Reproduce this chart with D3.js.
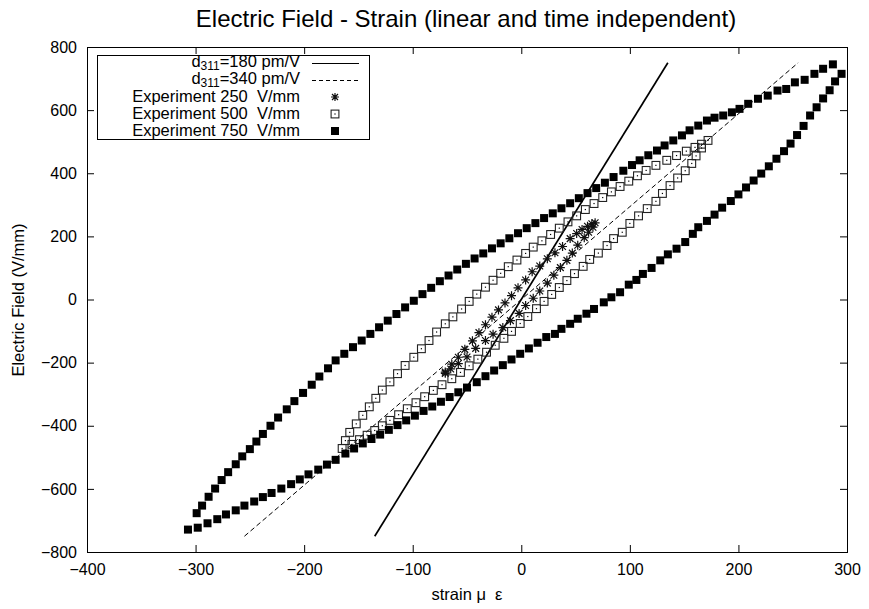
<!DOCTYPE html>
<html>
<head>
<meta charset="utf-8">
<script src="https://cdn.jsdelivr.net/npm/d3@7"></script>
<style>
body { margin: 0; background: #fff; }
text { font-family: "Liberation Sans", Arial, sans-serif; fill: #000; white-space: pre; }
</style>
</head>
<body>
<div id="chart"></div>
<script>
var titleText = "Electric Field - Strain (linear and time independent)";
var xLabel = "strain \u03bc  \u03b5";
var yLabel = "Electric Field (V/mm)";
var xTicks = [-400, -300, -200, -100, 0, 100, 200, 300];
var yTicks = [-800, -600, -400, -200, 0, 200, 400, 600, 800];

// d311 in pm/V, lines drawn over this field range (V/mm)
var dValues = [180, 340];
var fieldEnds = [-750, 750];

// measured loops [strain, field]
var exp250 = [
  [-70,-230],[-64,-205],[-58,-183],[-52,-158],[-45,-131],[-39,-105],[-33,-80],[-27,-56],
  [-21,-33],[-15,-11],[-9,12],[-3,37],[4,62],[10,88],[17,106],[24,129],[31,148],[38,168],
  [45,193],[51,209],[56,222],[61,232],[65,240],[68,243],
  [66,229],[62,213],[58,196],[52,172],[47,147],[42,124],[36,101],[30,77],[24,52],[17,27],
  [11,4],[4,-19],[-2,-44],[-10,-67],[-17,-89],[-26,-110],[-33,-130],[-42,-155],[-50,-182],
  [-58,-203],[-65,-220],[-70,-234]
];
var exp500 = [
  [-165,-472],[-162,-447],[-158,-421],[-152,-394],[-146,-367],[-140,-340],[-134,-313],
  [-128,-287],[-121,-261],[-114,-235],[-107,-209],[-99,-183],[-92,-156],[-85,-130],
  [-78,-103],[-70,-77],[-63,-55],[-55,-30],[-48,-6],[-41,17],[-33,39],[-26,61],[-19,83],
  [-12,104],[-4,125],[4,146],[11,166],[19,186],[27,206],[35,226],[43,246],[51,265],
  [59,285],[67,304],[75,323],[83,341],[91,358],[99,375],[107,392],[115,409],[124,425],
  [134,441],[143,456],[152,470],[160,482],[166,492],[172,504],
  [166,480],[161,455],[157,431],[151,408],[144,385],[137,361],[130,336],[124,311],
  [116,288],[108,265],[100,241],[93,213],[85,193],[79,171],[71,147],[63,127],[57,105],
  [49,82],[42,60],[35,38],[28,16],[21,-6],[14,-29],[6,-54],[-1,-76],[-9,-101],[-16,-123],
  [-24,-145],[-32,-167],[-40,-189],[-48,-210],[-56,-231],[-64,-251],[-73,-270],[-81,-288],
  [-89,-308],[-97,-327],[-105,-346],[-113,-365],[-121,-383],[-128,-400],[-135,-415],
  [-142,-430],[-149,-444],[-156,-459]
];
var exp750 = [
  [-299,-677],[-294,-653],[-288,-625],[-282,-599],[-276,-572],[-270,-547],[-263,-522],
  [-257,-497],[-250,-474],[-244,-450],[-238,-426],[-231,-400],[-224,-374],[-216,-348],
  [-209,-322],[-201,-296],[-193,-270],[-186,-244],[-178,-218],[-171,-193],[-163,-172],
  [-155,-151],[-147,-130],[-139,-109],[-131,-88],[-123,-67],[-115,-46],[-107,-25],
  [-99,-4],[-91,17],[-83,37],[-75,58],[-67,76],[-59,95],[-51,113],[-43,130],[-35,146],
  [-27,162],[-19,178],[-11,194],[-3,210],[5,226],[13,242],[21,258],[29,273],[37,289],
  [45,305],[53,321],[61,337],[69,353],[77,370],[85,388],[94,408],[102,426],[109,441],
  [117,457],[125,472],[132,488],[140,504],[148,520],[155,536],[163,551],[171,567],
  [178,576],[186,583],[194,593],[201,604],[209,620],[218,636],[227,646],[236,662],
  [244,667],[252,688],[261,696],[270,715],[278,731],[287,745],
  [295,715],[289,691],[284,663],[278,637],[272,609],[266,583],[260,550],[254,521],
  [248,494],[242,470],[235,446],[228,422],[221,399],[214,377],[207,355],[200,333],
  [193,312],[185,291],[178,269],[171,249],[163,229],[158,208],[151,182],[143,161],
  [135,143],[128,124],[120,100],[112,81],[106,62],[99,47],[91,23],[83,7],[76,-9],
  [67,-30],[60,-45],[52,-61],[45,-77],[37,-93],[31,-109],[23,-119],[15,-137],[7,-155],
  [-1,-172],[-9,-190],[-17,-208],[-25,-225],[-33,-243],[-41,-262],[-50,-279],[-58,-294],
  [-66,-309],[-74,-324],[-82,-339],[-90,-353],[-98,-368],[-106,-383],[-114,-398],
  [-122,-413],[-130,-428],[-138,-442],[-146,-456],[-154,-472],[-162,-488],[-171,-508],
  [-179,-523],[-187,-539],[-196,-554],[-204,-570],[-212,-585],[-221,-599],[-230,-613],
  [-238,-626],[-246,-640],[-255,-653],[-263,-668],[-272,-681],[-280,-696],[-289,-709],
  [-298,-723],[-307,-729]
];

var legendLines = ["=180 pm/V", "=340 pm/V"];
var legendExp = ["Experiment 250  V/mm", "Experiment 500  V/mm", "Experiment 750  V/mm"];

var width = 869, height = 609;
var svg = d3.select("#chart").append("svg")
    .attr("width", width)
    .attr("height", height);

var x = d3.scaleLinear().domain([-400, 300]).range([87, 847]);
var y = d3.scaleLinear().domain([-800, 800]).range([552, 47]);

// axes, ticks pointing inward
svg.append("g").attr("transform", "translate(0,552)")
    .call(d3.axisBottom(x).tickValues(xTicks).tickSize(-7).tickPadding(12));
svg.append("g").attr("transform", "translate(87,0)")
    .call(d3.axisLeft(y).tickValues(yTicks).tickSize(-7).tickPadding(10));
svg.append("g").attr("transform", "translate(0,47)")
    .call(d3.axisTop(x).tickValues(xTicks).tickSize(-7).tickFormat(""));
svg.append("g").attr("transform", "translate(847,0)")
    .call(d3.axisRight(y).tickValues(yTicks).tickSize(-7).tickFormat(""));
svg.selectAll(".domain").remove();
svg.selectAll(".tick line").attr("stroke", "#000");
svg.selectAll(".tick text").style("font-size", "16px")
    .style("font-family", "'Liberation Sans', Arial, sans-serif");

svg.append("rect")
    .attr("x", 87.5).attr("y", 47.5)
    .attr("width", 760).attr("height", 505)
    .attr("fill", "none").attr("stroke", "#000");

svg.append("text")
    .attr("x", 466).attr("y", 27)
    .attr("text-anchor", "middle")
    .style("font-size", "24px")
    .text(titleText);

svg.append("text")
    .attr("x", 467).attr("y", 600)
    .attr("text-anchor", "middle")
    .style("font-size", "16.5px")
    .text(xLabel);

svg.append("text")
    .attr("transform", "translate(24,300) rotate(-90)")
    .attr("text-anchor", "middle")
    .style("font-size", "16.5px")
    .text(yLabel);

var plot = svg.append("g");

// d311 lines
plot.selectAll("line.d311")
    .data(dValues)
    .enter().append("line")
    .attr("class", "d311")
    .attr("x1", function(d) { return x(d * fieldEnds[0] / 1000); })
    .attr("y1", y(fieldEnds[0]))
    .attr("x2", function(d) { return x(d * fieldEnds[1] / 1000); })
    .attr("y2", y(fieldEnds[1]))
    .attr("stroke", "#000")
    .attr("stroke-width", function(d, i) { return i == 0 ? 1.7 : 1; })
    .attr("stroke-dasharray", function(d, i) { return i == 0 ? null : "5,3"; });

// markers
function asterisk(g, cx, cy, s) {
    var p = "M" + (cx - s) + "," + cy + "h" + (2 * s) +
        "M" + cx + "," + (cy - s) + "v" + (2 * s) +
        "M" + (cx - s * 0.75) + "," + (cy - s * 0.75) + "l" + (1.5 * s) + "," + (1.5 * s) +
        "M" + (cx - s * 0.75) + "," + (cy + s * 0.75) + "l" + (1.5 * s) + "," + (-1.5 * s);
    g.append("path").attr("d", p).attr("stroke", "#111").attr("stroke-width", 1.2).attr("fill", "none");
}
function openSquare(g, cx, cy, s) {
    g.append("rect")
        .attr("x", cx - s / 2).attr("y", cy - s / 2)
        .attr("width", s).attr("height", s)
        .attr("fill", "none").attr("stroke", "#222").attr("stroke-width", 1.1);
    g.append("rect")
        .attr("x", cx - 0.6).attr("y", cy - 0.6)
        .attr("width", 1.2).attr("height", 1.2)
        .attr("fill", "#000");
}
function filledSquare(g, cx, cy, s) {
    g.append("rect")
        .attr("x", cx - s / 2).attr("y", cy - s / 2)
        .attr("width", s).attr("height", s)
        .attr("fill", "#000");
}

var g250 = plot.append("g"), g500 = plot.append("g"), g750 = plot.append("g");
exp250.forEach(function(d) { asterisk(g250, x(d[0]), y(d[1]), 4.5); });
exp500.forEach(function(d) { openSquare(g500, x(d[0]), y(d[1]), 7.8); });
exp750.forEach(function(d) { filledSquare(g750, x(d[0]), y(d[1]), 8); });

// legend
var leg = svg.append("g");
leg.append("rect")
    .attr("x", 97.5).attr("y", 55.5)
    .attr("width", 272).attr("height", 84)
    .attr("fill", "#fff").attr("stroke", "#000");

var rowY = function(i) { return 63 + 17 * i; };

legendLines.forEach(function(t, i) {
    var txt = leg.append("text")
        .attr("x", 300).attr("y", rowY(i) + 4)
        .attr("text-anchor", "end")
        .style("font-size", "16.5px");
    txt.append("tspan").text("d");
    txt.append("tspan").attr("dy", 3).style("font-size", "12px").text("311");
    txt.append("tspan").attr("dy", -3).text(t);
    leg.append("line")
        .attr("x1", 312).attr("x2", 359)
        .attr("y1", rowY(i) + 0.5).attr("y2", rowY(i) + 0.5)
        .attr("stroke", "#000")
        .attr("stroke-dasharray", i == 0 ? null : "4,3");
});

legendExp.forEach(function(t, i) {
    leg.append("text")
        .attr("x", 300).attr("y", rowY(i + 2) + 5)
        .attr("text-anchor", "end")
        .style("font-size", "16.5px")
        .text(t);
});
asterisk(leg, 335, rowY(2), 4);
openSquare(leg, 335, rowY(3), 7.8);
filledSquare(leg, 335, rowY(4), 8);
</script>
</body>
</html>
